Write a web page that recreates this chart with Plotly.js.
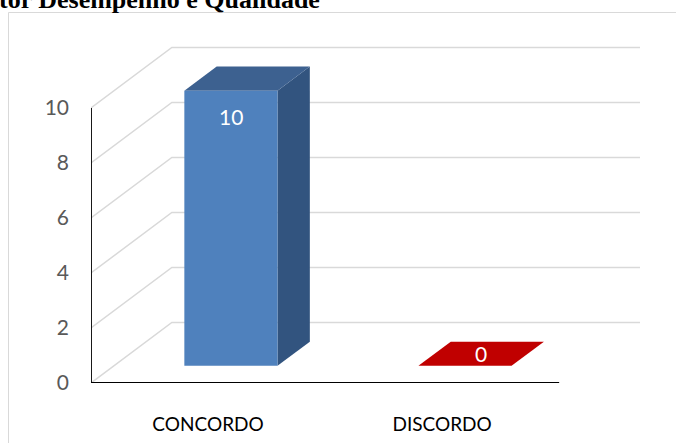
<!DOCTYPE html>
<html>
<head>
<meta charset="utf-8">
<script src="https://cdn.plot.ly/plotly-3.0.1.min.js"></script>
<style>html,body{margin:0;padding:0;background:#fff;}#chart{width:676px;height:443px;}</style>
</head>
<body>
<div id="chart"></div>
<script>
// ---- data ----
const categories = ['CONCORDO', 'DISCORDO'];
const values = [10, 0];
const yTickValues = [0, 2, 4, 6, 8, 10];
const titleText = 'tor Desempenho e Qualidade';

// ---- styles / geometry (not data) ----
const frontColors = ['#4f81bd', '#c00000'];
const sideColors = ['#32547f', '#8f0000'];
const topColors = ['#3d6190', '#c00000'];
const gridColor = '#d9d9d9';
const DX = 0.3454;   // wall depth in x units
const DY = 2.2;      // wall depth in y units
const D0 = 0.283;    // bar front face depth fraction
const DB = 0.4;      // bar depth fraction
const HW = 0.199;    // bar half width
const labelFont = 'Lato, "Open Sans", sans-serif';

const traces = [];

// back wall grid lines + side wall diagonals
const gx = [], gy = [];
yTickValues.forEach(v => {
  gx.push(-0.5, -0.5 + DX, 1.5 + DX, null);
  gy.push(v, v + DY, v + DY, null);
});
traces.push({x: gx, y: gy, mode: 'lines', line: {color: gridColor, width: 1.5}, hoverinfo: 'skip'});

// axis lines (front plane)
const topTick = yTickValues[yTickValues.length - 1];
traces.push({x: [-0.5, -0.5, categories.length - 0.5], y: [topTick, 0, 0], mode: 'lines',
  line: {color: '#000000', width: 1.8}, hoverinfo: 'skip'});

// 3D bars
const ox0 = D0 * DX, oy0 = D0 * DY, ox1 = (D0 + DB) * DX, oy1 = (D0 + DB) * DY;
const annotations = [];
values.forEach((v, i) => {
  const xl = i - HW, xr = i + HW;
  // side face
  traces.push({x: [xr + ox0, xr + ox1, xr + ox1, xr + ox0, xr + ox0], y: [oy0, oy1, v + oy1, v + oy0, oy0],
    mode: 'lines', fill: 'toself', fillcolor: sideColors[i], line: {width: 0}, hoverinfo: 'skip'});
  // top face
  traces.push({x: [xl + ox0, xr + ox0, xr + ox1, xl + ox1, xl + ox0], y: [v + oy0, v + oy0, v + oy1, v + oy1, v + oy0],
    mode: 'lines', fill: 'toself', fillcolor: topColors[i], line: {width: 0}, hoverinfo: 'skip'});
  // front face
  traces.push({x: [xl + ox0, xr + ox0, xr + ox0, xl + ox0, xl + ox0], y: [oy0, oy0, v + oy0, v + oy0, oy0],
    mode: 'lines', fill: 'toself', fillcolor: frontColors[i], line: {width: 0}, hoverinfo: 'skip'});
  if (v > 0) {
    annotations.push({x: i + ox0, y: v + oy0, xref: 'x', yref: 'y', text: String(v), showarrow: false,
      yanchor: 'top', yshift: -11, font: {family: labelFont, size: 21, color: '#ffffff'}});
  } else {
    annotations.push({x: i + (ox0 + ox1) / 2, y: v + (oy0 + oy1) / 2, xref: 'x', yref: 'y', text: String(v),
      showarrow: false, yanchor: 'middle', font: {family: labelFont, size: 21, color: '#ffffff'}});
  }
});

// title (clipped at top, as in the source)
annotations.push({xref: 'paper', yref: 'paper', x: (-3 - 91) / 549, y: (383 - 16) / 337, xanchor: 'left', yanchor: 'bottom',
  text: '<b>' + titleText + '</b>', showarrow: false,
  font: {family: '"Liberation Serif", "Times New Roman", serif', size: 26, color: '#000000'}});

const layout = {
  width: 676, height: 443,
  margin: {l: 91, r: 36, t: 46, b: 60, pad: 0},
  paper_bgcolor: '#ffffff', plot_bgcolor: 'rgba(0,0,0,0)',
  showlegend: false, hovermode: false,
  xaxis: {range: [-0.5, categories.length - 0.5 + DX], tickvals: categories.map((c, i) => i), ticktext: categories,
    showgrid: false, zeroline: false, showline: false, ticks: '', ticklabelstandoff: 28,
    tickfont: {family: labelFont, size: 19, color: '#000000'}, fixedrange: true},
  yaxis: {range: [0, 12.25], tickvals: yTickValues, showgrid: false, zeroline: false, showline: false, ticks: '',
    ticklabelstandoff: 21, tickfont: {family: labelFont, size: 21, color: '#595959'}, fixedrange: true},
  annotations: annotations,
  shapes: [{type: 'rect', xref: 'paper', yref: 'paper', x0: (8.5 - 91) / 549, x1: 1.3, y0: -0.5, y1: (383 - 12.5) / 337,
    line: {color: '#d9d9d9', width: 1}, fillcolor: 'rgba(0,0,0,0)', layer: 'below'}]
};

Plotly.newPlot('chart', traces, layout, {staticPlot: true, displayModeBar: false});
</script>
</body>
</html>
